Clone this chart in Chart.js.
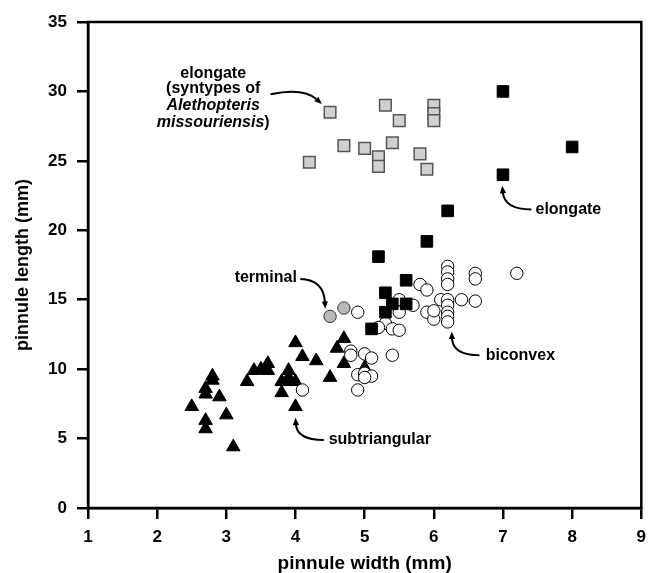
<!DOCTYPE html>
<html>
<head>
<meta charset="utf-8">
<script src="https://cdn.jsdelivr.net/npm/chart.js@4"></script>
<style>
  body { margin: 0; background: #fff; }
  canvas { display: block; }
</style>
</head>
<body>
<canvas id="chart" width="651" height="573"></canvas>
<script>
// Data (pinnule width, pinnule length in mm)
const elongateSyntypes = [
    [4.5, 28.5], [5.3, 29.0], [5.5, 27.9], [6.0, 29.0], [6.0, 28.4], [6.0, 27.9], [4.7, 26.1],
    [5.0, 25.9], [5.4, 26.3], [5.2, 25.3], [5.2, 24.6], [5.8, 25.5], [5.9, 24.4], [4.2, 24.9]
];
const elongate = [
    [7.0, 30.0], [8.0, 26.0], [7.0, 24.0], [6.2, 21.4], [5.9, 19.2], [5.2, 18.1],
    [5.6, 16.4], [5.3, 15.5], [5.4, 14.7], [5.6, 14.7], [5.3, 14.1], [5.1, 12.9]
];
const terminal = [[4.5, 13.8], [4.7, 14.4]];
const biconvex = [
    [7.2, 16.9], [6.2, 17.4], [6.2, 17.0], [6.2, 16.5], [6.2, 16.1], [6.6, 16.9], [6.6, 16.5],
    [5.8, 16.1], [5.9, 15.7], [5.5, 15.0], [5.7, 14.6], [6.1, 15.0], [6.2, 15.0], [6.2, 14.6],
    [6.2, 14.1], [6.2, 13.8], [6.2, 13.4], [6.4, 15.0], [6.6, 14.9], [5.9, 14.1], [6.0, 13.6],
    [6.0, 14.2], [4.9, 14.1], [5.5, 14.1], [5.3, 13.3], [5.4, 12.9], [5.5, 12.8], [5.2, 13.0],
    [4.8, 11.3], [4.8, 11.0], [5.0, 11.1], [5.1, 10.8], [5.4, 11.0], [4.9, 9.6], [5.0, 9.7],
    [5.1, 9.5], [5.0, 9.4], [4.9, 8.5], [4.1, 8.5]
];
const subtriangular = [
    [2.5, 7.3], [2.7, 6.3], [2.7, 5.7], [2.8, 9.5], [2.8, 9.2], [2.7, 8.6], [2.7, 8.2], [2.9, 8.0],
    [3.0, 6.7], [3.1, 4.4], [3.3, 9.1], [3.4, 9.9], [3.5, 10.0], [3.6, 10.4], [3.6, 9.9], [3.8, 9.1],
    [3.9, 9.9], [3.9, 9.4], [4.0, 9.1], [3.8, 8.3], [3.9, 9.1], [4.0, 7.3], [4.0, 11.9], [4.1, 10.9],
    [4.3, 10.6], [4.5, 9.4], [4.6, 11.5], [4.7, 12.2], [4.7, 10.4], [5.0, 10.1]
];

// Axis ranges
const xRange = [1, 9];
const yRange = [0, 35];

// Annotations, in data units: text anchor and arrow (start, control, end)
const labels = [
    { lines: [[['elongate', false]], [['(syntypes of', false]], [['Alethopteris', true]], [['missouriensis', true], [')', false]]],
      x: 2.81, y: [31.32, 30.17, 29.01, 27.79], align: 'center' },
    { lines: [[['elongate', false]]], x: 7.47, y: [21.5], align: 'left' },
    { lines: [[['terminal', false]]], x: 4.02, y: [16.56], align: 'right' },
    { lines: [[['biconvex', false]]], x: 6.75, y: [10.94], align: 'left' },
    { lines: [[['subtriangular', false]]], x: 4.48, y: [4.9], align: 'left' }
];
const arrows = [
    [[3.64, 29.8], [4.12, 30.3], [4.38, 29.1]],
    [[7.41, 21.5], [7.02, 21.5], [6.99, 23.2]],
    [[4.07, 16.5], [4.41, 16.45], [4.43, 14.35]],
    [[6.66, 11.0], [6.27, 11.0], [6.26, 12.7]],
    [[4.41, 4.9], [4.02, 4.9], [4.0, 6.5]]
];

const FONT = '"Liberation Sans", Arial, Helvetica, sans-serif';
const toXY = arr => arr.map(p => ({ x: p[0], y: p[1] }));

const annotationPlugin = {
    id: 'annotations',
    afterDatasetsDraw(chart) {
        const { ctx, scales: { x, y } } = chart;
        ctx.save();
        ctx.fillStyle = '#000';
        ctx.strokeStyle = '#000';
        ctx.textBaseline = 'middle';

        labels.forEach(lab => {
            lab.lines.forEach((parts, i) => {
                const widths = parts.map(([t, it]) => {
                    ctx.font = (it ? 'italic ' : '') + 'bold 16px ' + FONT;
                    return ctx.measureText(t).width;
                });
                const total = widths.reduce((a, b) => a + b, 0);
                let px = x.getPixelForValue(lab.x);
                if (lab.align === 'center') px -= total / 2;
                if (lab.align === 'right') px -= total;
                const py = y.getPixelForValue(lab.y[i]);
                ctx.textAlign = 'left';
                parts.forEach(([t, it], j) => {
                    ctx.font = (it ? 'italic ' : '') + 'bold 16px ' + FONT;
                    ctx.fillText(t, px, py);
                    px += widths[j];
                });
            });
        });

        arrows.forEach(a => {
            const p = a.map(pt => [x.getPixelForValue(pt[0]), y.getPixelForValue(pt[1])]);
            const ang = Math.atan2(p[2][1] - p[1][1], p[2][0] - p[1][0]);
            const head = 8;
            // stop the line at the base of the head
            const bx = p[2][0] - Math.cos(ang) * head * 0.8;
            const by = p[2][1] - Math.sin(ang) * head * 0.8;
            ctx.lineWidth = 2;
            ctx.beginPath();
            ctx.moveTo(p[0][0], p[0][1]);
            ctx.quadraticCurveTo(p[1][0], p[1][1], bx, by);
            ctx.stroke();
            ctx.beginPath();
            ctx.moveTo(p[2][0], p[2][1]);
            ctx.lineTo(p[2][0] - Math.cos(ang - 0.4) * head, p[2][1] - Math.sin(ang - 0.4) * head);
            ctx.lineTo(p[2][0] - Math.cos(ang + 0.4) * head, p[2][1] - Math.sin(ang + 0.4) * head);
            ctx.closePath();
            ctx.fill();
        });
        ctx.restore();
    },
    afterDraw(chart) {
        // box round the plot
        const { ctx, chartArea: a } = chart;
        ctx.save();
        ctx.strokeStyle = '#000';
        ctx.lineWidth = 2.5;
        ctx.strokeRect(a.left, a.top, a.right - a.left, a.bottom - a.top);
        ctx.restore();
    }
};

const tickFont = { family: FONT, size: 17, weight: 'bold' };

new Chart(document.getElementById('chart'), {
    type: 'scatter',
    data: {
        datasets: [
            { label: 'elongate', data: toXY(elongate), pointStyle: 'rect', pointRadius: 8.2,
              backgroundColor: '#000', borderColor: '#000', borderWidth: 1 },
            { label: 'elongate (syntypes)', data: toXY(elongateSyntypes), pointStyle: 'rect', pointRadius: 8.2,
              backgroundColor: '#d0d0d0', borderColor: '#555', borderWidth: 1.5 },
            { label: 'terminal', data: toXY(terminal), pointStyle: 'circle', pointRadius: 6.2,
              backgroundColor: '#b8b8b8', borderColor: '#333', borderWidth: 1 },
            { label: 'biconvex', data: toXY(biconvex), pointStyle: 'circle', pointRadius: 6.2,
              backgroundColor: '#fff', borderColor: '#000', borderWidth: 1 },
            { label: 'subtriangular', data: toXY(subtriangular), pointStyle: 'triangle', pointRadius: 7.8,
              backgroundColor: '#000', borderColor: '#000', borderWidth: 1 }
        ]
    },
    options: {
        responsive: false,
        animation: false,
        layout: { padding: { top: 22, right: 6, left: 0, bottom: 0 } },
        plugins: { legend: { display: false }, tooltip: { enabled: false } },
        scales: {
            x: {
                type: 'linear', min: xRange[0], max: xRange[1],
                afterFit: s => { s.height = 65; s.paddingLeft = 0; s.paddingRight = 0; },
                ticks: { stepSize: 1, color: '#000', font: tickFont, padding: 8 },
                grid: { drawOnChartArea: false, color: '#000', lineWidth: 2.5, tickLength: 11 },
                border: { color: '#000', width: 2.5 },
                title: { display: true, text: 'pinnule width (mm)', color: '#000',
                         font: { family: FONT, size: 19, weight: 'bold', lineHeight: 1 }, padding: { top: 0, bottom: 0 } }
            },
            y: {
                type: 'linear', min: yRange[0], max: yRange[1],
                afterFit: s => { s.width = 88; },
                ticks: { stepSize: 5, color: '#000', font: tickFont, padding: 10 },
                grid: { drawOnChartArea: false, color: '#000', lineWidth: 2.5, tickLength: 11 },
                border: { color: '#000', width: 2.5 },
                title: { display: true, text: 'pinnule length (mm)', color: '#000',
                         font: { family: FONT, size: 18, weight: 'bold' }, padding: { top: 12, bottom: 0 } }
            }
        }
    },
    plugins: [annotationPlugin]
});
</script>
</body>
</html>
